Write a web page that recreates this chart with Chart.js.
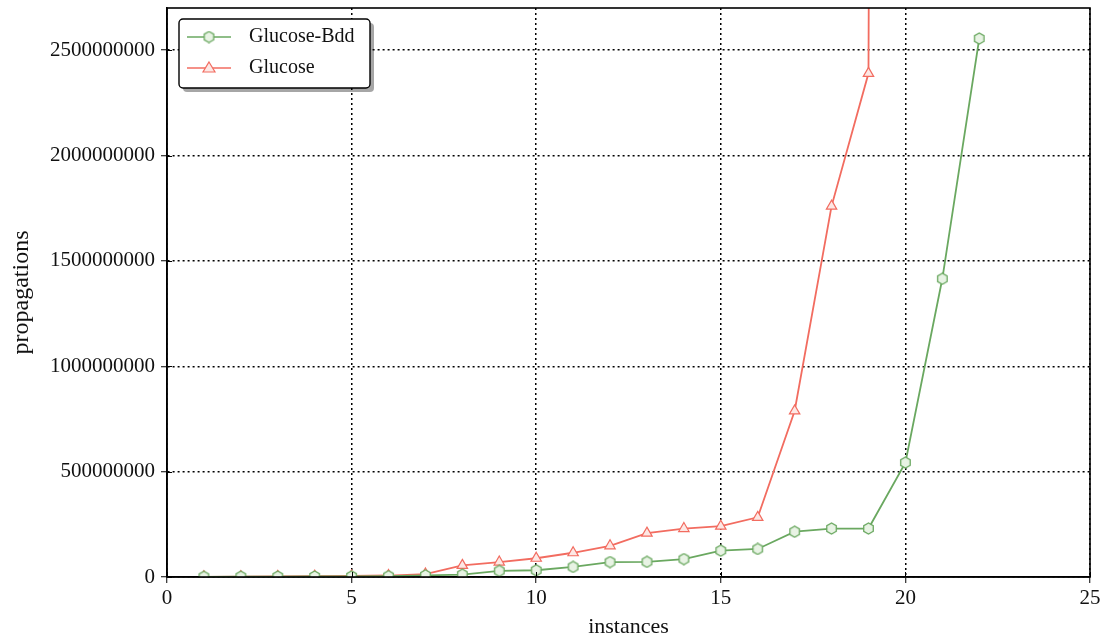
<!DOCTYPE html>
<html>
<head>
<meta charset="utf-8">
<script src="https://cdn.jsdelivr.net/npm/chart.js@4"></script>
<style>
  html, body { margin: 0; padding: 0; background: #fff; }
  #wrap { width: 1107px; height: 640px; }
</style>
</head>
<body>
<div id="wrap"><canvas id="chart" width="1107" height="640"></canvas></div>
<script>
const instances = [1, 2, 3, 4, 5, 6, 7, 8, 9, 10, 11, 12, 13, 14, 15, 16, 17, 18, 19, 20, 21, 22];
const glucoseBdd = [1e6, 1.5e6, 2e6, 2.5e6, 3e6, 4e6, 8e6, 1.1e7, 2.9e7, 3.2e7, 4.8e7, 7.1e7, 7.2e7, 8.5e7,
  1.25e8, 1.33e8, 2.15e8, 2.3e8, 2.3e8, 5.43e8, 1.415e9, 2.555e9];
// last Glucose value lies far above the axis (line leaves the plot vertically)
const glucose = [1e6, 2e6, 3e6, 4e6, 5e6, 7e6, 1.4e7, 5.5e7, 7.1e7, 8.9e7, 1.15e8, 1.48e8, 2.08e8, 2.3e8,
  2.41e8, 2.83e8, 7.88e8, 1.76e9, 2.39e9, 5e10];
const yTicks = [0, 500000000, 1000000000, 1500000000, 2000000000, 2500000000];
const xTicks = [0, 5, 10, 15, 20, 25];

const GREEN = 'rgb(106,168,96)';
const GREEN_FILL = 'rgb(232,243,228)';
const RED = 'rgb(242,108,96)';
const RED_FILL = 'rgb(253,232,229)';
const FONT = '"Liberation Serif", "DejaVu Serif", serif';

function hexagon(size, stroke, fill) {
  const c = document.createElement('canvas');
  c.width = size; c.height = size;
  const g = c.getContext('2d');
  const r = size / 2 - 1;
  g.beginPath();
  for (let i = 0; i < 6; i++) {
    const a = Math.PI / 6 + i * Math.PI / 3;
    const px = size / 2 + r * Math.cos(a), py = size / 2 + r * Math.sin(a);
    if (i === 0) g.moveTo(px, py); else g.lineTo(px, py);
  }
  g.closePath();
  g.fillStyle = fill; g.fill();
  g.lineWidth = 1.3; g.strokeStyle = stroke; g.stroke();
  return c;
}
const hexGreen = hexagon(13, GREEN, GREEN_FILL);

const framePlugin = {
  id: 'frame',
  afterDatasetsDraw(chart) {
    const { ctx, chartArea: a, scales } = chart;
    ctx.save();
    ctx.strokeStyle = '#000';
    ctx.lineWidth = 1;
    // inner tick marks
    ctx.beginPath();
    scales.x.ticks.forEach((t) => {
      const px = Math.round(scales.x.getPixelForValue(t.value)) + 0.5;
      ctx.moveTo(px, a.bottom); ctx.lineTo(px, a.bottom - 5);
    });
    scales.y.ticks.forEach((t) => {
      const py = Math.round(scales.y.getPixelForValue(t.value)) + 0.5;
      ctx.moveTo(a.left, py); ctx.lineTo(a.left + 5, py);
    });
    ctx.stroke();
    ctx.lineWidth = 1.6;
    ctx.strokeRect(a.left, a.top, a.right - a.left, a.bottom - a.top);
    ctx.restore();
  }
};

const legendPlugin = {
  id: 'boxLegend',
  afterDraw(chart) {
    const { ctx } = chart;
    const x = 179, y = 19, w = 191, h = 69;
    ctx.save();
    ctx.fillStyle = 'rgba(0,0,0,0.35)';
    ctx.beginPath(); ctx.roundRect(x + 4, y + 4, w, h, 4); ctx.fill();
    ctx.fillStyle = '#fff';
    ctx.strokeStyle = '#000';
    ctx.lineWidth = 1.4;
    ctx.beginPath(); ctx.roundRect(x, y, w, h, 4); ctx.fill(); ctx.stroke();
    const items = chart.data.datasets;
    ctx.font = '20px ' + FONT;
    ctx.textBaseline = 'middle';
    items.forEach((ds, i) => {
      const cy = y + 18 + i * 31;
      ctx.strokeStyle = ds.borderColor;
      ctx.lineWidth = 1.6;
      ctx.beginPath(); ctx.moveTo(x + 8, cy); ctx.lineTo(x + 52, cy); ctx.stroke();
      const cx = x + 30;
      if (i === 0) {
        ctx.drawImage(hexGreen, cx - 6.5, cy - 6.5);
      } else {
        ctx.beginPath();
        ctx.moveTo(cx, cy - 6); ctx.lineTo(cx + 6, cy + 4); ctx.lineTo(cx - 6, cy + 4); ctx.closePath();
        ctx.fillStyle = RED_FILL; ctx.fill();
        ctx.lineWidth = 1.2; ctx.stroke();
      }
      ctx.fillStyle = '#111';
      ctx.fillText(ds.label, x + 70, cy);
    });
    ctx.restore();
  }
};

const gridOpts = {
  color: '#000',
  lineWidth: 1.5,
  tickLength: 6,
  tickColor: '#000',
  tickBorderDash: [],
  tickWidth: 1,
};

new Chart(document.getElementById('chart'), {
  type: 'line',
  data: {
    datasets: [
      {
        label: 'Glucose-Bdd',
        data: instances.map((v, i) => ({ x: v, y: glucoseBdd[i] })),
        borderColor: GREEN,
        backgroundColor: GREEN_FILL,
        borderWidth: 1.8,
        pointStyle: hexGreen,
        pointRadius: 6,
        pointHoverRadius: 6,
        tension: 0,
      },
      {
        label: 'Glucose',
        data: glucose.map((v, i) => ({ x: instances[i], y: v })),
        borderColor: RED,
        backgroundColor: RED_FILL,
        borderWidth: 1.8,
        pointStyle: 'triangle',
        pointRadius: 6,
        pointHoverRadius: 6,
        pointBorderWidth: 1.2,
        tension: 0,
      },
    ],
  },
  options: {
    responsive: false,
    animation: false,
    events: [],
    layout: { padding: { top: 8, right: 17, left: 0, bottom: 0 } },
    plugins: {
      legend: { display: false },
      title: { display: false },
      tooltip: { enabled: false },
    },
    scales: {
      x: {
        type: 'linear',
        min: 0,
        max: 25,
        afterBuildTicks: (s) => { s.ticks = xTicks.map((v) => ({ value: v })); },
        afterFit: (s) => { s.height = 63; s.paddingRight = 0; },
        ticks: { color: '#111', font: { family: FONT, size: 21 }, padding: 3 },
        grid: gridOpts,
        border: { color: '#000', width: 1.6, dash: [2, 3] },
        title: { display: true, text: 'instances', color: '#111', font: { family: FONT, size: 22 }, padding: { top: 0, bottom: 0 } },
      },
      y: {
        min: 0,
        max: 2.7e9,
        afterBuildTicks: (s) => { s.ticks = yTicks.map((v) => ({ value: v })); },
        afterFit: (s) => { s.width = 167; s.paddingTop = 0; s.paddingBottom = 0; },
        ticks: {
          color: '#111',
          font: { family: FONT, size: 21 },
          padding: 6,
          callback: (v) => String(v),
        },
        grid: gridOpts,
        border: { color: '#000', width: 1.6, dash: [2, 3] },
        title: { display: true, text: 'propagations', color: '#111', font: { family: FONT, size: 24 }, padding: { top: 7, bottom: 2 } },
      },
    },
  },
  plugins: [framePlugin, legendPlugin],
});
</script>
</body>
</html>
